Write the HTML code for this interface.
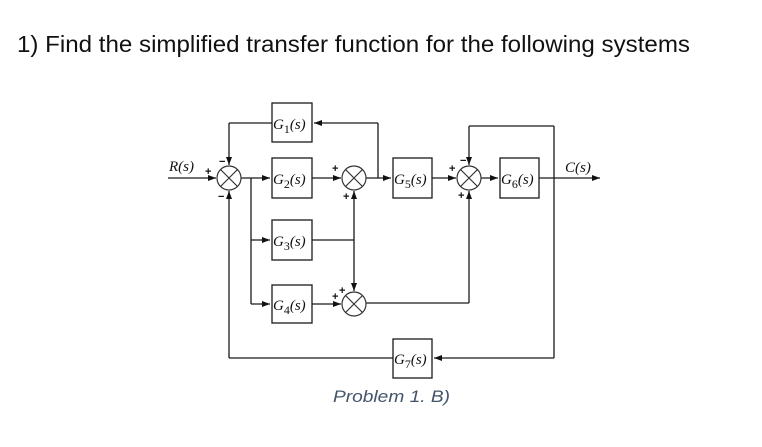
<!DOCTYPE html>
<html><head><meta charset="utf-8"><style>
html,body{margin:0;padding:0;background:#fff;}
svg{display:block;}
.t{font-family:"Liberation Serif",serif;font-size:15px;fill:#111;}
.s{font-family:"Liberation Serif",serif;font-size:12px;fill:#111;}
</style></head><body>
<svg width="762" height="447" viewBox="0 0 762 447" xmlns="http://www.w3.org/2000/svg">
<defs>
<marker id="a" markerWidth="8" markerHeight="6" refX="8" refY="3" orient="auto" markerUnits="userSpaceOnUse">
<path d="M0,0 L8,3 L0,6 z" fill="#111"/></marker>
</defs>
<text x="17" y="52" font-family="Liberation Sans, sans-serif" font-size="23" fill="#111" textLength="673" lengthAdjust="spacingAndGlyphs">1) Find the simplified transfer function for the following systems</text>
<g stroke="#1a1a1a" stroke-width="1.3" fill="none">
<line x1="168" y1="178" x2="216" y2="178" marker-end="url(#a)"/>
<line x1="241" y1="178" x2="270" y2="178" marker-end="url(#a)"/>
<line x1="251" y1="178" x2="251" y2="304"/>
<line x1="251" y1="240" x2="270" y2="240" marker-end="url(#a)"/>
<line x1="251" y1="304" x2="270" y2="304" marker-end="url(#a)"/>
<line x1="272" y1="123" x2="229" y2="123"/>
<line x1="229" y1="123" x2="229" y2="165" marker-end="url(#a)"/>
<line x1="378" y1="178" x2="378" y2="123"/>
<line x1="378" y1="123" x2="314" y2="123" marker-end="url(#a)"/>
<line x1="312" y1="178" x2="341" y2="178" marker-end="url(#a)"/>
<line x1="366" y1="178" x2="391" y2="178" marker-end="url(#a)"/>
<line x1="312" y1="240" x2="354" y2="240"/>
<line x1="354" y1="240" x2="354" y2="191" marker-end="url(#a)"/>
<line x1="354" y1="240" x2="354" y2="291" marker-end="url(#a)"/>
<line x1="312" y1="304" x2="341" y2="304" marker-end="url(#a)"/>
<line x1="366" y1="303" x2="469" y2="303"/>
<line x1="469" y1="303" x2="469" y2="191" marker-end="url(#a)"/>
<line x1="432" y1="178" x2="456" y2="178" marker-end="url(#a)"/>
<line x1="481" y1="178" x2="498" y2="178" marker-end="url(#a)"/>
<line x1="539" y1="178" x2="600" y2="178" marker-end="url(#a)"/>
<line x1="554" y1="178" x2="554" y2="126"/>
<line x1="554" y1="126" x2="469" y2="126"/>
<line x1="469" y1="126" x2="469" y2="165" marker-end="url(#a)"/>
<line x1="554" y1="178" x2="554" y2="358"/>
<line x1="554" y1="358" x2="434" y2="358" marker-end="url(#a)"/>
<line x1="393" y1="358" x2="229" y2="358"/>
<line x1="229" y1="358" x2="229" y2="191" marker-end="url(#a)"/>
<rect x="272" y="103" width="40" height="39"/>
<rect x="272" y="158" width="40" height="40"/>
<rect x="272" y="220" width="40" height="40"/>
<rect x="272" y="285" width="40" height="38"/>
<rect x="393" y="158" width="39" height="40"/>
<rect x="500" y="158" width="39" height="40"/>
<rect x="393" y="339" width="39" height="39"/>
</g>
<g stroke="#333" stroke-width="1.2" fill="#fff">
<circle cx="229" cy="178" r="12"/><circle cx="354" cy="178" r="12"/>
<circle cx="354" cy="304" r="12"/><circle cx="469" cy="178" r="12"/>
</g>
<g stroke="#333" stroke-width="1.2">
<path d="M220.5,169.5l17,17M237.5,169.5l-17,17"/>
<path d="M345.5,169.5l17,17M362.5,169.5l-17,17"/>
<path d="M345.5,295.5l17,17M362.5,295.5l-17,17"/>
<path d="M460.5,169.5l17,17M477.5,169.5l-17,17"/>
</g>
<g class="t" font-style="italic">
<text x="273" y="129">G<tspan class="s" dy="4" font-style="normal">1</tspan><tspan dy="-4">(s)</tspan></text>
<text x="273" y="184">G<tspan class="s" dy="4" font-style="normal">2</tspan><tspan dy="-4">(s)</tspan></text>
<text x="273" y="246">G<tspan class="s" dy="4" font-style="normal">3</tspan><tspan dy="-4">(s)</tspan></text>
<text x="273" y="310">G<tspan class="s" dy="4" font-style="normal">4</tspan><tspan dy="-4">(s)</tspan></text>
<text x="394" y="184">G<tspan class="s" dy="4" font-style="normal">5</tspan><tspan dy="-4">(s)</tspan></text>
<text x="501" y="184">G<tspan class="s" dy="4" font-style="normal">6</tspan><tspan dy="-4">(s)</tspan></text>
<text x="394" y="364">G<tspan class="s" dy="4" font-style="normal">7</tspan><tspan dy="-4">(s)</tspan></text>
<text x="169" y="171">R(s)</text>
<text x="565" y="172">C(s)</text>
</g>
<g font-family="Liberation Sans,sans-serif" font-size="11" fill="#111" font-weight="bold">
<text x="205" y="175">+</text><text x="219" y="165">−</text><text x="218" y="200">−</text>
<text x="332" y="172">+</text><text x="343" y="200">+</text>
<text x="339" y="294">+</text><text x="332" y="300">+</text>
<text x="449" y="172">+</text><text x="460" y="164">−</text><text x="458" y="199">+</text>
</g>
<text x="333" y="402" font-family="Liberation Sans,sans-serif" font-style="italic" font-size="17" fill="#44546a" textLength="117" lengthAdjust="spacingAndGlyphs">Problem 1. B)</text>
</svg>
</body></html>
